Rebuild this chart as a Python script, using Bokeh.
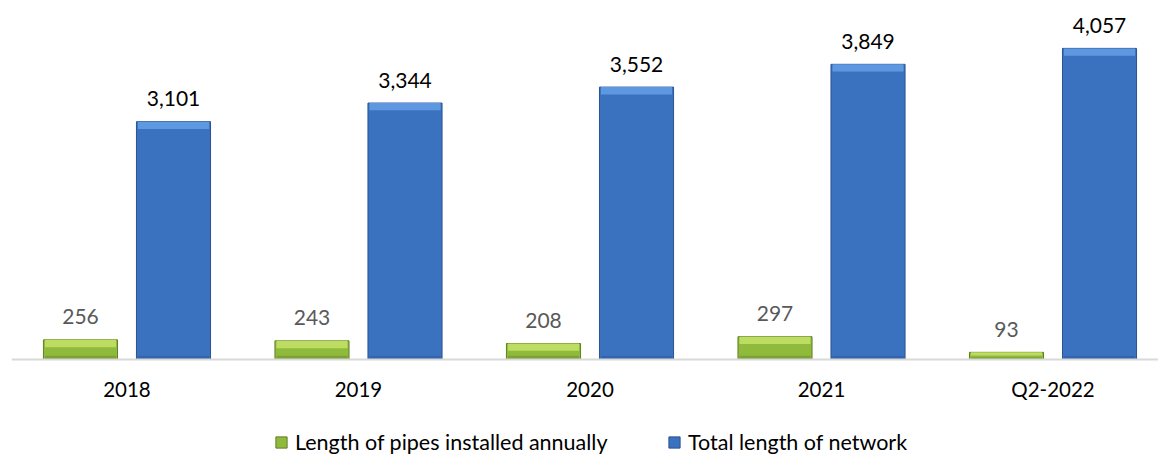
from bokeh.plotting import figure
from bokeh.models import ColumnDataSource, Range1d, FixedTicker, Legend, LegendItem
from bokeh.transform import dodge
from bokeh.core.properties import value
from bokeh.embed import file_html
from bokeh.resources import INLINE

categories = ["2018", "2019", "2020", "2021", "Q2-2022"]
annual = [256, 243, 208, 297, 93]
total = [3101, 3344, 3552, 3849, 4057]
series_names = ["Length of pipes installed annually", "Total length of network"]

FONT = "Lato"
GREEN = "#8fba3c"
GREEN_HI = "#bcdc62"
GREEN_LO = "#6f9130"
BLUE = "#3b72c0"
BLUE_HI = "#5e98e0"
BLUE_LO = "#2f5ea3"

xs = list(range(len(categories)))

def strips(vals, depth_top=95, depth_bot=50):
    hi_bot = [v - min(depth_top, 0.45 * v) for v in vals]
    lo_top = [min(depth_bot, 0.3 * v) for v in vals]
    return hi_bot, lo_top

a_hi, a_lo = strips(annual)
t_hi, t_lo = strips(total)

src = ColumnDataSource(dict(
    x=xs,
    annual=annual,
    total=total,
    a_hi=a_hi, a_lo=a_lo, t_hi=t_hi, t_lo=t_lo,
    annual_lbl=[f"{v:,}" for v in annual],
    total_lbl=[f"{v:,}" for v in total],
))

p = figure(width=1158, height=454, output_backend="svg", toolbar_location=None,
           x_range=Range1d(-0.4989, 4.4557), y_range=Range1d(-1239, 4577),
           y_axis_location=None, min_border_left=11, min_border_right=0,
           min_border_top=8, min_border_bottom=0, outline_line_color=None)
p.xgrid.visible = False
p.ygrid.visible = False

bw = 0.32
off = 0.2009
gx = dodge("x", -off, range=p.x_range)
bx = dodge("x", off, range=p.x_range)

g = p.vbar(x=gx, top="annual", width=bw, source=src,
           fill_color=GREEN, line_color="#5f7f25", line_width=1)
p.vbar(x=gx, top="annual", bottom="a_hi", width=bw * 0.96, source=src,
       fill_color=GREEN_HI, line_color=None)
p.vbar(x=gx, top="a_lo", bottom=0, width=bw * 0.96, source=src,
       fill_color=GREEN_LO, line_color=None, fill_alpha=0.6)

b = p.vbar(x=bx, top="total", width=bw, source=src,
           fill_color=BLUE, line_color="#2a5290", line_width=1)
p.vbar(x=bx, top="total", bottom="t_hi", width=bw * 0.96, source=src,
       fill_color=BLUE_HI, line_color=None)
p.vbar(x=bx, top="t_lo", bottom=0, width=bw * 0.96, source=src,
       fill_color=BLUE_LO, line_color=None, fill_alpha=0.6)

p.text(x=gx, y="annual", text="annual_lbl", source=src,
       text_align="center", text_baseline="alphabetic", y_offset=-23,
       text_font=value(FONT), text_font_size="21px", text_color="#595959")
p.text(x=bx, y="total", text="total_lbl", source=src,
       text_align="center", text_baseline="alphabetic", y_offset=-23,
       text_font=value(FONT), text_font_size="21px", text_color="#000000")

ax = p.xaxis[0]
ax.fixed_location = 0
ax.ticker = FixedTicker(ticks=xs)
ax.major_label_overrides = {i: c for i, c in zip(xs, categories)}
ax.major_tick_line_color = None
ax.minor_tick_line_color = None
ax.axis_line_color = "#d9d9d9"
ax.axis_line_width = 2
ax.major_label_text_font = FONT
ax.major_label_text_font_size = "20.5px"
ax.major_label_text_color = "#000000"
ax.major_label_standoff = 12

for r, name, loc in [(g, series_names[0], (263, -1)), (b, series_names[1], (656, -1))]:
    lg = Legend(items=[LegendItem(label=name, renderers=[r])], location=loc,
                glyph_width=14, glyph_height=14, label_standoff=7, padding=0, margin=0,
                border_line_color=None, background_fill_alpha=0,
                label_text_font=FONT, label_text_font_size="21.5px", label_text_color="#000000")
    p.add_layout(lg)

open("out.html", "w").write(file_html(p, INLINE))
